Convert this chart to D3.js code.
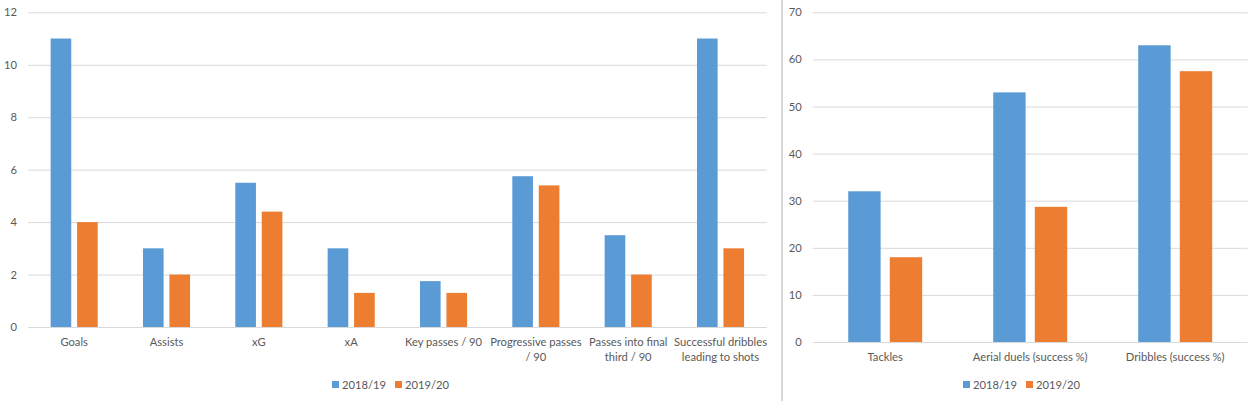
<!DOCTYPE html>
<html>
<head>
<meta charset="utf-8">
<script src="https://cdn.jsdelivr.net/npm/d3@7"></script>
<style>
  html, body { margin: 0; padding: 0; background: #fff; }
  svg text { font-family: Lato, "Open Sans", sans-serif; fill: #595959; }
</style>
</head>
<body>
<div id="chart"></div>
<script>
// data
const seasons = ["2018/19", "2019/20"];
const colours = ["#5B9BD5", "#ED7D31"];

const attackCategories = ["Goals", "Assists", "xG", "xA", "Key passes / 90",
  "Progressive passes / 90", "Passes into final third / 90", "Successful dribbles leading to shots"];
const attack1819 = [11, 3, 5.5, 3, 1.75, 5.75, 3.5, 11];
const attack1920 = [4, 2, 4.4, 1.3, 1.3, 5.4, 2, 3];
const attackTicks = [0, 2, 4, 6, 8, 10, 12];

const defenceCategories = ["Tackles", "Aerial duels (success %)", "Dribbles (success %)"];
const defence1819 = [32, 53, 63];
const defence1920 = [18, 28.7, 57.5];
const defenceTicks = [0, 10, 20, 30, 40, 50, 60, 70];

const W = 1260, H = 401;
const fontSize = "11.2px";
const svg = d3.select("#chart").append("svg")
  .attr("width", W)
  .attr("height", H);

svg.append("rect").attr("width", W).attr("height", H).attr("fill", "#fff");

// divider between the two chart frames
svg.append("rect")
  .attr("x", 781).attr("y", 0)
  .attr("width", 2).attr("height", H)
  .attr("fill", "#d9d9d9");

function wrap(text, width) {
  text.each(function() {
    const t = d3.select(this);
    const words = t.text().split(/\s+/);
    const y = +t.attr("y");
    t.text(null);
    let line = [];
    let lineNo = 0;
    let tspan = t.append("tspan").attr("x", 0).attr("y", y).attr("dy", "0.71em");
    words.forEach(w => {
      line.push(w);
      tspan.text(line.join(" "));
      if (tspan.node().getComputedTextLength() > width && line.length > 1) {
        line.pop();
        tspan.text(line.join(" "));
        line = [w];
        lineNo++;
        tspan = t.append("tspan").attr("x", 0).attr("y", y + lineNo * 15)
          .attr("dy", "0.71em").text(w);
      }
    });
  });
}

let barChart = (opts) => {
  const { categories, series, ticks, left, right, top, bottom, frameLeft, frameRight } = opts;
  const width = right - left, height = bottom - top;

  const g = svg.append("g").attr("transform", "translate(" + left + "," + top + ")");

  const x0 = d3.scaleBand().domain(categories).range([0, width]).padding(0);
  const bw = x0.bandwidth();
  const margin = bw * 0.245;
  const x1 = d3.scaleBand().domain(d3.range(series.length))
    .range([margin, bw - margin]).paddingInner(0.22).paddingOuter(0);

  const y = d3.scaleLinear().domain([0, d3.max(ticks)]).range([height, 0]);

  // y axis + gridlines
  const yAxis = g.append("g")
    .call(d3.axisLeft(y).tickValues(ticks).tickSize(-width).tickPadding(11).tickFormat(d => d));
  yAxis.select(".domain").remove();
  yAxis.selectAll(".tick line").attr("stroke", "#d9d9d9").attr("stroke-width", 1);
  yAxis.selectAll(".tick text").attr("font-size", fontSize).attr("fill", "#595959");

  // bars
  const groups = g.selectAll("g.cat")
    .data(categories)
    .enter().append("g")
    .attr("class", "cat")
    .attr("transform", d => "translate(" + x0(d) + ",0)");

  groups.selectAll("rect")
    .data((d, i) => series.map((s, k) => ({ k: k, v: s[i] })))
    .enter().append("rect")
    .attr("x", d => x1(d.k))
    .attr("y", d => y(d.v))
    .attr("width", x1.bandwidth())
    .attr("height", d => height - y(d.v))
    .attr("fill", d => colours[d.k]);

  // x axis
  const xAxis = g.append("g")
    .attr("transform", "translate(0," + height + ")")
    .call(d3.axisBottom(x0).tickSize(0).tickPadding(11));
  xAxis.select(".domain").remove();
  xAxis.selectAll(".tick text")
    .attr("font-size", fontSize)
    .attr("fill", "#595959")
    .call(wrap, bw + 4);

  // legend
  const legend = svg.append("g");
  let cx = 0;
  seasons.forEach((s, k) => {
    const item = legend.append("g").attr("transform", "translate(" + cx + ",0)");
    item.append("rect").attr("x", 0).attr("y", -6).attr("width", 7).attr("height", 7)
      .attr("fill", colours[k]);
    const t = item.append("text").attr("x", 10).attr("y", 1).attr("dy", "0.1em")
      .attr("font-size", fontSize).text(s);
    cx += 63;
    if (k === seasons.length - 1) cx += -63 + 10 + t.node().getComputedTextLength();
  });
  const mid = (frameLeft + frameRight) / 2;
  legend.attr("transform", "translate(" + (mid - cx / 2) + "," + 387 + ")");
};

barChart({
  categories: attackCategories,
  series: [attack1819, attack1920],
  ticks: attackTicks,
  left: 28, right: 766.7, top: 12.3, bottom: 327,
  frameLeft: 0, frameRight: 781
});

barChart({
  categories: defenceCategories,
  series: [defence1819, defence1920],
  ticks: defenceTicks,
  left: 812.7, right: 1247.7, top: 12.3, bottom: 342,
  frameLeft: 783, frameRight: 1260
});
</script>
</body>
</html>
